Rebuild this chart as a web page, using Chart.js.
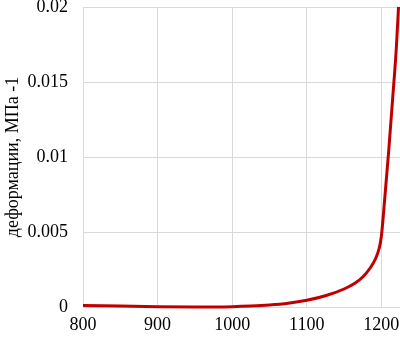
<!DOCTYPE html>
<html>
<head>
<meta charset="utf-8">
<script src="https://cdn.jsdelivr.net/npm/chart.js@4"></script>
<style>
    html, body { margin: 0; padding: 0; background: #fff; }
    canvas { display: block; }
</style>
</head>
<body>
<canvas id="chart" width="400" height="337"></canvas>
<script>
const temps = [800, 850, 900, 950, 1000, 1025, 1050, 1075, 1100, 1125, 1150, 1165, 1175, 1185, 1192, 1197, 1200, 1205, 1210, 1215, 1220, 1223];
const values = [0.0001, 0.00006, 0.00002, 0.0, 0.00002, 0.00006, 0.00013, 0.00025, 0.00045, 0.00075, 0.0012, 0.0016, 0.002, 0.0026, 0.0032, 0.0039, 0.0047, 0.0075, 0.0105, 0.0138, 0.0172, 0.0200];
const xTicks = [800, 900, 1000, 1100, 1200];
const yTicks = [0, 0.005, 0.01, 0.015, 0.02];
const yTitle = "деформации, МПа -1";

const family = "'Liberation Serif', 'Times New Roman', serif";

new Chart(
    document.getElementById("chart"),
    {
        type: "line",
        data: {
            datasets: [{
                data: temps.map((t, i) => ({ x: t, y: values[i] })),
                borderColor: "#c00000",
                borderWidth: 3,
                pointRadius: 0,
                cubicInterpolationMode: "monotone",
                clip: false
            }]
        },
        options: {
            responsive: false,
            animation: false,
            layout: { padding: { top: 7, right: 0, left: 0, bottom: 0 } },
            plugins: { legend: { display: false }, tooltip: { enabled: false } },
            scales: {
                x: {
                    type: "linear",
                    min: 800,
                    max: 1225,
                    afterBuildTicks: s => { s.ticks = xTicks.map(v => ({ value: v })); },
                    afterFit: s => { s.height = 30; },
                    grid: { color: "#d9d9d9", drawTicks: false },
                    border: { display: false },
                    ticks: {
                        color: "#000",
                        font: { family: family, size: 18, lineHeight: 2 },
                        padding: 0,
                        maxRotation: 0,
                        callback: v => String(v)
                    }
                },
                y: {
                    min: 0,
                    max: 0.02,
                    afterBuildTicks: s => { s.ticks = yTicks.map(v => ({ value: v })); },
                    afterFit: s => { s.width = 83; },
                    // transparent tick marks give the label gap without extra top padding
                    grid: { color: "#d9d9d9", drawTicks: true, tickLength: 15, tickColor: "rgba(0,0,0,0)" },
                    border: { display: false },
                    ticks: {
                        color: "#000",
                        font: { family: family, size: 18, lineHeight: 0 },
                        padding: 0,
                        callback: v => String(v)
                    },
                    title: {
                        display: true,
                        text: yTitle,
                        color: "#000",
                        font: { family: family, size: 18 },
                        padding: { top: 2, bottom: 0 }
                    }
                }
            }
        }
    }
);
</script>
</body>
</html>
